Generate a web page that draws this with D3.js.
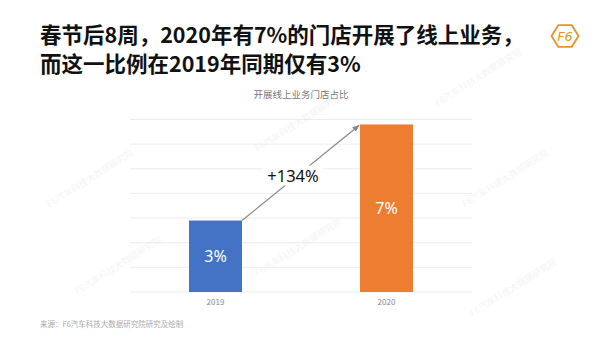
<!DOCTYPE html>
<html><head><meta charset="utf-8">
<script src="https://cdn.jsdelivr.net/npm/d3@7"></script>
<style>body{margin:0;background:#fff;}svg{display:block;font-family:"Noto Sans CJK SC","Noto Sans",sans-serif;}</style>
</head><body><svg id="c" width="600" height="337"></svg>
<script>
const titleLines = ["春节后8周，2020年有7%的门店开展了线上业务，", "而这一比例在2019年同期仅有3%"];
const chartTitle = "开展线上业务门店占比";
const source = "来源：F6汽车科技大数据研究院研究及绘制";
const categories = ["2019", "2020"];
const values = [2.9, 6.8];
const valueLabels = ["3%", "7%"];
const colors = ["#4472C4", "#ED7D31"];
const growthLabel = "+134%";
const yTicks = [0, 1, 2, 3, 4, 5, 6, 7];
const watermark = "F6汽车科技大数据研究院";

const svg = d3.select("#c");

// title
svg.append("g").selectAll("text").data(titleLines).join("text")
  .attr("x", 40).attr("y", (d,i) => 43 + i*29)
  .attr("font-size", 21.5).attr("font-weight", 700).attr("fill", "#111").text(d => d);

// logo
const logo = svg.append("g").attr("transform","translate(565,36)");
const hex = d3.range(6).map(i => { const a = Math.PI/3*i; return [13.5*Math.cos(a), 12.5*Math.sin(a)]; });
logo.append("path").attr("d", d3.line()(hex) + "Z").attr("fill","none").attr("stroke","#E8922A").attr("stroke-width",1.8);
logo.append("text").attr("text-anchor","middle").attr("y",5).attr("font-size",13).attr("font-style","italic")
  .attr("fill","#E8922A").attr("font-family","DejaVu Sans").text("F6");

svg.append("text").attr("x", 301).attr("y", 98).attr("text-anchor","middle")
  .attr("font-size", 9.5).attr("fill","#777").text(chartTitle);

const x = d3.scaleBand().domain(categories).range([130, 472]).paddingInner(0.69).paddingOuter(0.345);
const y = d3.scaleLinear().domain([0, 7]).range([292, 119.5]);

svg.append("g").selectAll("line").data(yTicks).join("line")
  .attr("x1", 130).attr("x2", 472).attr("y1", d => y(d)).attr("y2", d => y(d))
  .attr("stroke", "#ececec").attr("stroke-width", 1);

svg.append("g").selectAll("rect").data(values).join("rect")
  .attr("x", (d,i) => x(categories[i])).attr("width", x.bandwidth())
  .attr("y", d => y(d)).attr("height", d => y(0) - y(d))
  .attr("fill", (d,i) => colors[i]);

svg.append("g").selectAll("text").data(values).join("text")
  .attr("x", (d,i) => x(categories[i]) + x.bandwidth()/2)
  .attr("y", d => (y(d) + y(0))/2 + 6)
  .attr("text-anchor","middle").attr("font-size",16).attr("fill","#fff")
  .attr("font-family","Noto Sans, sans-serif")
  .text((d,i) => valueLabels[i]);

// x axis labels
svg.append("g").selectAll("text").data(categories).join("text")
  .attr("x", d => x(d) + x.bandwidth()/2).attr("y", 305)
  .attr("text-anchor","middle").attr("font-size",8).attr("fill","#888").text(d => d);

// arrow
const defs = svg.append("defs");
defs.append("marker").attr("id","ah").attr("viewBox","0 0 10 10").attr("refX",9).attr("refY",5)
  .attr("markerWidth",6).attr("markerHeight",6).attr("orient","auto")
  .append("path").attr("d","M0,1L10,5L0,9Z").attr("fill","#888");
const x0 = x(categories[0]) + x.bandwidth(), y0 = y(values[0]);
const x1 = x(categories[1]), y1 = y(values[1]);
svg.append("line").attr("x1", x0).attr("y1", y0).attr("x2", x1 - 1).attr("y2", y1 + 1)
  .attr("stroke","#888").attr("stroke-width",1.2).attr("marker-end","url(#ah)");
const mx = (x0 + x1)/2 - 8, my = (y0 + y1)/2 + 4;
svg.append("rect").attr("x", mx - 30).attr("y", my - 11).attr("width", 60).attr("height", 20).attr("fill","#fff");
svg.append("text").attr("x", mx).attr("y", my + 6).attr("text-anchor","middle")
  .attr("font-size",16.5).attr("fill","#111").attr("font-family","Noto Sans, sans-serif").text(growthLabel);

svg.append("text").attr("x", 40).attr("y", 327).attr("font-size", 7.5).attr("fill","#aaa").text(source);

// watermarks (very faint, on top)
const wmPos = [[92,181],[507,181],[300,250],[120,268],[300,125],[515,290],[480,80]];
svg.append("g").selectAll("text").data(wmPos).join("text")
  .attr("transform", d => `translate(${d[0]},${d[1]}) rotate(-32)`)
  .attr("text-anchor","middle").attr("font-size",9).attr("fill","#e8e8e8").attr("opacity",0.45).text(watermark);
</script></body></html>
